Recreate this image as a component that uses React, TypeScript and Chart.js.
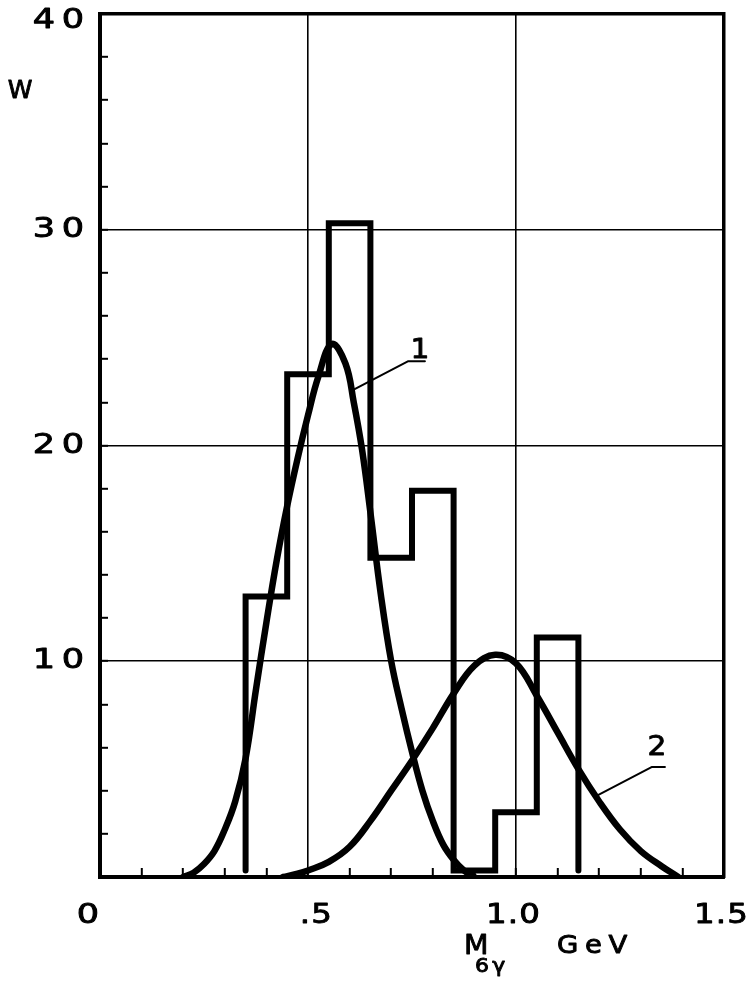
import React, { useEffect, useRef } from 'react';
import { Chart, registerables } from 'chart.js';

Chart.register(...registerables);

// ---------- data ----------
const histEdges = [0.35, 0.45, 0.55, 0.65, 0.75, 0.85, 0.95, 1.05, 1.15];
const histCounts = [13.0, 23.3, 30.3, 14.8, 17.9, 0.3, 3.0, 11.1];
const histBase = 0.3;

const curve1X = [0.20, 0.225, 0.25, 0.275, 0.30, 0.325, 0.35, 0.375, 0.40, 0.425, 0.45, 0.475, 0.50, 0.525, 0.557, 0.59, 0.61, 0.63, 0.65, 0.675, 0.70, 0.725, 0.75, 0.775, 0.80, 0.825, 0.85, 0.875, 0.90];
const curve1Y = [0, 0.2, 0.6, 1.2, 2.2, 3.5, 5.5, 8.7, 11.8, 14.7, 17.2, 19.4, 21.4, 23.2, 24.7, 23.8, 22.0, 19.8, 16.9, 13.1, 10.0, 7.8, 5.8, 4.0, 2.6, 1.5, 0.8, 0.3, 0];

const curve2X = [0.44, 0.475, 0.50, 0.55, 0.60, 0.65, 0.70, 0.75, 0.80, 0.85, 0.90, 0.95, 1.00, 1.05, 1.10, 1.15, 1.20, 1.25, 1.30, 1.35, 1.39];
const curve2Y = [0, 0.15, 0.3, 0.7, 1.4, 2.6, 4.0, 5.4, 6.9, 8.5, 9.8, 10.3, 9.9, 8.4, 6.7, 5.0, 3.5, 2.2, 1.2, 0.5, 0];

const leader1X = [0.611, 0.740, 0.781];
const leader1Y = [22.6, 23.9, 23.9];
const leader2X = [1.197, 1.327, 1.358];
const leader2Y = [3.8, 5.1, 5.1];

const curveLabelTexts = ['1', '2'];
const curveLabelX = [0.769, 1.339];
const curveLabelY = [24.4, 6.0];

const xTickValues = [0, 0.5, 1.0, 1.5];
const xTickLabels = ['0', '.5', '1.0', '1.5'];
const yTickValues = [10, 20, 30, 40];
const yTickLabels = ['10', '20', '30', '40'];
const xGridValues = [0.5, 1.0];
const yGridValues = [10, 20, 30];

const yAxisLabel = 'W';
const xAxisLabelMain = 'M';
const xAxisLabelSub = '6γ';
const xAxisUnit = 'GeV';

// ---------- helpers ----------
const FONT = '"DejaVu Sans", Verdana, sans-serif';
const INK = '#000';

const histPoints: { x: number; y: number }[] = [{ x: histEdges[0], y: histBase }];
histCounts.forEach((c, i) => {
  histPoints.push({ x: histEdges[i], y: c });
  histPoints.push({ x: histEdges[i + 1], y: c });
});
histPoints.push({ x: histEdges[histEdges.length - 1], y: histBase });

const zip = (xs: number[], ys: number[]) => xs.map((x, i) => ({ x, y: ys[i] }));

const near = (v: number, list: number[]) => list.some((g) => Math.abs(g - v) < 1e-6);

function drawText(
  ctx: CanvasRenderingContext2D,
  text: string,
  x: number,
  y: number,
  size: number,
  sx: number,
  spacing: number,
  align: 'left' | 'center' | 'right' | 'dot'
) {
  ctx.save();
  ctx.font = `${size}px ${FONT}`;
  ctx.textBaseline = 'middle';
  ctx.textAlign = 'left';
  ctx.fillStyle = INK;
  ctx.strokeStyle = INK;
  ctx.lineWidth = 0.9;
  ctx.lineJoin = 'round';
  (ctx as any).letterSpacing = '0px';
  const w0 = ctx.measureText(text).width;
  const total = (w0 + spacing * (text.length - 1)) * sx;
  let start = x;
  if (align === 'center') start = x - total / 2;
  else if (align === 'right') start = x - total;
  else if (align === 'dot') {
    const k = text.indexOf('.');
    const pre = text.slice(0, k);
    const wp = ctx.measureText(pre).width + spacing * pre.length;
    const wd = ctx.measureText('.').width;
    start = x - (wp + wd / 2) * sx;
  }
  ctx.translate(start, y);
  ctx.scale(sx, 1);
  (ctx as any).letterSpacing = `${spacing}px`;
  ctx.fillText(text, 0, 0);
  ctx.strokeText(text, 0, 0);
  ctx.restore();
}

const textPlugin = {
  id: 'paperText',
  afterDraw(chart: any) {
    const ctx: CanvasRenderingContext2D = chart.ctx;
    const xs = chart.scales.x;
    const ys = chart.scales.y;
    const a = chart.chartArea;

    yTickValues.forEach((v, i) => {
      const py = Math.max(ys.getPixelForValue(v), a.top + 7);
      drawText(ctx, yTickLabels[i], a.left - 16, py, 27, 1.3, 5, 'right');
    });

    xTickValues.forEach((v, i) => {
      const px = xs.getPixelForValue(v);
      const label = xTickLabels[i];
      if (label.includes('.')) drawText(ctx, label, px - 3, a.bottom + 39, 27, 1.2, 1, 'dot');
      else drawText(ctx, label, px - 12, a.bottom + 39, 27, 1.3, 0, 'center');
    });

    drawText(ctx, yAxisLabel, a.left - 80, a.top + 77, 25, 1.0, 0, 'center');

    drawText(ctx, xAxisLabelMain, a.left + 364, a.bottom + 70, 27, 1.05, 0, 'left');
    drawText(ctx, xAxisLabelSub, a.left + 375, a.bottom + 90, 20, 1.1, 3, 'left');
    drawText(ctx, xAxisUnit, a.left + 457, a.bottom + 69, 25, 1.1, 6, 'left');

    curveLabelTexts.forEach((t, i) => {
      drawText(ctx, t, xs.getPixelForValue(curveLabelX[i]), ys.getPixelForValue(curveLabelY[i]), 27, 1.1, 0, 'center');
    });
  },
};

export default function App() {
  const ref = useRef<HTMLCanvasElement>(null);

  useEffect(() => {
    const canvas = ref.current;
    if (!canvas) return;
    const curveStyle = {
      showLine: true,
      borderColor: INK,
      pointRadius: 0,
      fill: false,
      borderCapStyle: 'round' as const,
      borderJoinStyle: 'round' as const,
    };
    const chart = new Chart(canvas, {
      type: 'scatter',
      data: {
        datasets: [
          {
            ...curveStyle,
            label: 'histogram',
            data: histPoints,
            borderWidth: 6,
            tension: 0,
            borderJoinStyle: 'miter' as const,
          },
          {
            ...curveStyle,
            label: 'curve 1',
            data: zip(curve1X, curve1Y),
            borderWidth: 6.5,
            tension: 0.4,
          },
          {
            ...curveStyle,
            label: 'curve 2',
            data: zip(curve2X, curve2Y),
            borderWidth: 6.5,
            tension: 0.4,
          },
          { ...curveStyle, label: 'leader 1', data: zip(leader1X, leader1Y), borderWidth: 2, tension: 0 },
          { ...curveStyle, label: 'leader 2', data: zip(leader2X, leader2Y), borderWidth: 2, tension: 0 },
        ],
      },
      options: {
        animation: false,
        responsive: false,
        devicePixelRatio: 1,
        events: [],
        layout: { padding: 0 },
        plugins: { legend: { display: false }, tooltip: { enabled: false }, title: { display: false } },
        scales: {
          x: {
            type: 'linear',
            position: 'bottom',
            min: 0,
            max: 1.5,
            afterFit: (s: any) => {
              s.height = 105;
            },
            ticks: { display: false, stepSize: 0.1 },
            grid: {
              color: (c: any) => (near(c.tick?.value, xGridValues) ? INK : 'rgba(0,0,0,0)'),
              lineWidth: 1.6,
              tickColor: INK,
              tickWidth: 2,
              tickLength: -9,
              drawTicks: true,
            },
            border: { display: true, color: INK, width: 4 },
          },
          y: {
            type: 'linear',
            position: 'left',
            min: 0,
            max: 40,
            afterFit: (s: any) => {
              s.width = 100;
            },
            ticks: { display: false, stepSize: 2 },
            grid: {
              color: (c: any) => (near(c.tick?.value, yGridValues) ? INK : 'rgba(0,0,0,0)'),
              lineWidth: 1.6,
              tickColor: INK,
              tickWidth: 2,
              tickLength: -8,
              drawTicks: true,
            },
            border: { display: true, color: INK, width: 4 },
          },
          x2: {
            type: 'linear',
            position: 'top',
            min: 0,
            max: 1.5,
            afterFit: (s: any) => {
              s.height = 14;
            },
            ticks: { display: false },
            grid: { display: false },
            border: { display: true, color: INK, width: 3.5 },
          },
          y2: {
            type: 'linear',
            position: 'right',
            min: 0,
            max: 40,
            afterFit: (s: any) => {
              s.width = 29;
            },
            ticks: { display: false },
            grid: { display: false },
            border: { display: true, color: INK, width: 3.5 },
          },
        },
      } as any,
      plugins: [textPlugin],
    });
    return () => chart.destroy();
  }, []);

  return (
    <div style={{ position: 'absolute', left: 0, top: 0, width: 753, height: 982, background: '#fff' }}>
      <canvas ref={ref} width={753} height={982} style={{ display: 'block', width: 753, height: 982 }} />
    </div>
  );
}
